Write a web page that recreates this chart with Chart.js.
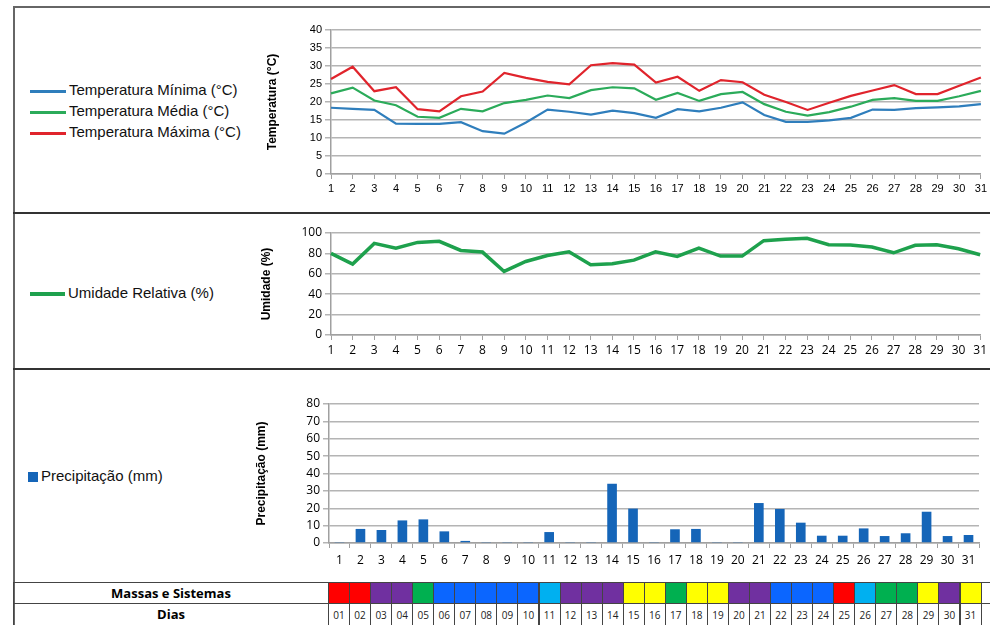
<!DOCTYPE html>
<html lang="pt">
<head>
<meta charset="utf-8">
<script src="https://cdn.jsdelivr.net/npm/chart.js@4"></script>
<style>
  html, body { margin: 0; padding: 0; background: #fff; }
  #wrap { position: relative; width: 990px; height: 625px; overflow: hidden; font-family: "Liberation Sans", Arial, sans-serif; }
  canvas { position: absolute; }
  .hline { position: absolute; height: 2px; background: #333; }
  .vline { position: absolute; width: 2px; background: #666; }
  .leg { position: absolute; font-size: 15px; color: #111; white-space: nowrap; line-height: 18px; }
  .leg i { display: inline-block; vertical-align: middle; margin-right: 3px; }
  .cell { position: absolute; box-sizing: border-box; border: 1px solid #444; }
  .lab { font-family: "Open Sans", "Liberation Sans", sans-serif; font-weight: bold; font-size: 13px; text-align: center; line-height: 21px; }
  .day { font-family: "Open Sans", "Liberation Sans", sans-serif; font-size: 10px; text-align: center; line-height: 22px; color: #222; }
</style>
</head>
<body>
<div id="wrap">
  <div class="vline" style="left:13px; top:6px; height:619px;"></div>
  <div class="hline" style="left:13px; top:6px; width:977px; background:#666;"></div>
  <div class="hline" style="left:13px; top:212px; width:977px;"></div>
  <div class="hline" style="left:13px; top:368px; width:977px;"></div>

  <div class="leg" style="left:30px; top:81px;"><i style="width:36px;height:3px;background:#2f7ebc"></i>Temperatura Mínima (°C)</div>
  <div class="leg" style="left:30px; top:102px;"><i style="width:36px;height:3px;background:#2bab5a"></i>Temperatura Média (°C)</div>
  <div class="leg" style="left:30px; top:123px;"><i style="width:36px;height:3px;background:#e0242c"></i>Temperatura Máxima (°C)</div>
  <div class="leg" style="left:30px; top:284px;"><i style="width:35px;height:4px;background:#1ea14d"></i>Umidade Relativa (%)</div>
  <div class="leg" style="left:28px; top:467px;"><i style="width:10px;height:10px;background:#1565b8"></i>Precipitação (mm)</div>

  <canvas id="cTemp" width="734" height="183" style="left:256px; top:15px;"></canvas>
  <canvas id="cUmid" width="734" height="137" style="left:256px; top:222px;"></canvas>
  <canvas id="cPrec" width="734" height="178" style="left:254px; top:392px;"></canvas>

  <div id="tabela"></div>
</div>
<script>
// dias do mês (rótulos do eixo x)
const dias = ['1','2','3','4','5','6','7','8','9','10','11','12','13','14','15','16','17','18','19','20','21','22','23','24','25','26','27','28','29','30','31'];

// temperaturas (°C)
const tMin = [18.4,18.1,17.8,14.0,13.9,13.9,14.4,11.9,11.2,14.3,17.9,17.3,16.5,17.6,16.9,15.6,18.0,17.4,18.4,19.9,16.4,14.5,14.5,14.9,15.6,17.9,17.8,18.3,18.5,18.8,19.4];
const tMed = [22.4,24.0,20.4,19.1,15.9,15.6,18.1,17.4,19.7,20.6,21.8,21.1,23.3,24.1,23.8,20.6,22.5,20.3,22.2,22.8,19.4,17.3,16.2,17.2,18.7,20.6,21.1,20.3,20.3,21.6,23.1];
const tMax = [26.4,29.8,23.0,24.1,18.0,17.4,21.6,22.9,28.1,26.7,25.6,24.9,30.2,30.8,30.4,25.4,27.0,23.1,26.1,25.5,22.0,20.0,17.8,19.8,21.7,23.2,24.7,22.2,22.2,24.5,26.8];

// umidade relativa (%)
const umidade = [80,69.5,89.8,85,90.8,91.8,82.9,81.3,62.3,72.1,78,81.6,68.8,69.8,73.4,81.6,77,85.2,77.4,77.4,92.5,93.8,94.8,88.5,88.2,86.2,80.6,87.9,88.5,84.6,78.7];

// precipitação (mm)
const precip = [0.3,8.1,7.5,13.0,13.6,6.7,1.2,0.3,0.3,0.3,6.3,0.3,0.3,34.1,19.8,0.3,7.9,8.1,0.3,0.3,23.0,19.6,11.7,4.2,4.2,8.4,4.0,5.6,18.0,4.0,4.6];

// massas de ar e sistemas por dia
const massas = ['R','R','P','P','G','B','B','B','B','B','C','P','P','P','Y','Y','G','Y','Y','P','P','B','B','B','R','C','G','G','Y','P','Y'];
const corMassa = { R: '#ff0000', P: '#7030a0', G: '#00b050', B: '#0b66ff', C: '#00b0f0', Y: '#ffff00' };

const tickFont = { family: 'Liberation Sans', size: 11 };
const tickFont2 = { family: 'Open Sans', size: 12 };
const titleFont = { family: 'Liberation Sans', size: 12, weight: 'bold' };

function scalesFor(opts) {
    return {
        x: {
            offset: opts.bar,
            grid: { display: true, drawOnChartArea: false, tickLength: 5, color: '#a0a0a0', offset: opts.bar },
            border: { color: '#a0a0a0', width: 1.5 },
            ticks: { font: opts.font, color: '#000', maxRotation: 0, autoSkip: false, padding: opts.xPad },
            afterFit: (s) => { s.height = opts.xHeight; },
        },
        y: {
            min: 0,
            max: opts.max,
            ticks: { stepSize: opts.step, font: opts.font, color: '#000', padding: 3, autoSkip: false },
            grid: { color: '#b4b4b4', lineWidth: 1.5, tickLength: 6 },
            border: { color: '#a0a0a0', width: 1.5 },
            title: { display: true, text: opts.title, font: titleFont, color: '#000', padding: { top: opts.titlePad, bottom: 0 } },
            afterFit: (s) => { s.width = opts.yWidth; },
        },
    };
}

const common = {
    responsive: false,
    animation: false,
    plugins: { legend: { display: false }, tooltip: { enabled: false } },
};

new Chart(document.getElementById('cTemp'), {
    type: 'line',
    data: {
        labels: dias,
        datasets: [
            { label: 'Temperatura Mínima (°C)', data: tMin, borderColor: '#2f7ebc', borderWidth: 2.2, pointRadius: 0, tension: 0 },
            { label: 'Temperatura Média (°C)', data: tMed, borderColor: '#2bab5a', borderWidth: 2.2, pointRadius: 0, tension: 0 },
            { label: 'Temperatura Máxima (°C)', data: tMax, borderColor: '#e0242c', borderWidth: 2.2, pointRadius: 0, tension: 0 },
        ],
    },
    options: {
        ...common,
        layout: { padding: { top: 15, right: 9, left: 0, bottom: 0 } },
        scales: scalesFor({ bar: false, max: 40, step: 5, title: 'Temperatura (°C)', titlePad: 9, yWidth: 75, xHeight: 24, xPad: 3, font: tickFont }),
    },
});

new Chart(document.getElementById('cUmid'), {
    type: 'line',
    data: {
        labels: dias,
        datasets: [
            { label: 'Umidade Relativa (%)', data: umidade, borderColor: '#1ea14d', borderWidth: 3.5, pointRadius: 0, tension: 0 },
        ],
    },
    options: {
        ...common,
        layout: { padding: { top: 11, right: 9, left: 0, bottom: 0 } },
        scales: scalesFor({ bar: false, max: 100, step: 20, title: 'Umidade (%)', titlePad: 3, yWidth: 75, xHeight: 24, xPad: 3, font: tickFont2 }),
    },
});

new Chart(document.getElementById('cPrec'), {
    type: 'bar',
    data: {
        labels: dias,
        datasets: [
            { label: 'Precipitação (mm)', data: precip, backgroundColor: '#1565b8', barPercentage: 0.92, categoryPercentage: 0.5 },
        ],
    },
    options: {
        ...common,
        layout: { padding: { top: 12, right: 9, left: 0, bottom: 0 } },
        scales: scalesFor({ bar: true, max: 80, step: 10, title: 'Precipitação (mm)', titlePad: 0, yWidth: 75, xHeight: 27, xPad: 5, font: tickFont2 }),
    },
});

// tabela de massas e sistemas
const tab = document.getElementById('tabela');
const x0 = 328, cw = 21.05, r1 = 582, r2 = 603, rh = 22;
function cell(left, top, w, h, cls, bg, txt) {
    const d = document.createElement('div');
    d.className = 'cell ' + cls;
    d.style.left = left + 'px';
    d.style.top = top + 'px';
    d.style.width = w + 'px';
    d.style.height = h + 'px';
    if (bg) { d.style.background = bg; }
    if (txt) { d.textContent = txt; }
    tab.appendChild(d);
}
cell(13, r1, x0 - 13 + 1, rh, 'lab', null, 'Massas e Sistemas');
cell(13, r2, x0 - 13 + 1, rh + 1, 'lab', null, 'Dias');
massas.forEach((m, i) => {
    cell(x0 + i * cw, r1, cw + 1, rh, '', corMassa[m], '');
    cell(x0 + i * cw, r2, cw + 1, rh + 1, 'day', null, String(i + 1).padStart(2, '0'));
});
cell(x0 + 31 * cw, r1, 20, rh, '', null, '');
cell(x0 + 31 * cw, r2, 20, rh + 1, '', null, '');
</script>
</body>
</html>
